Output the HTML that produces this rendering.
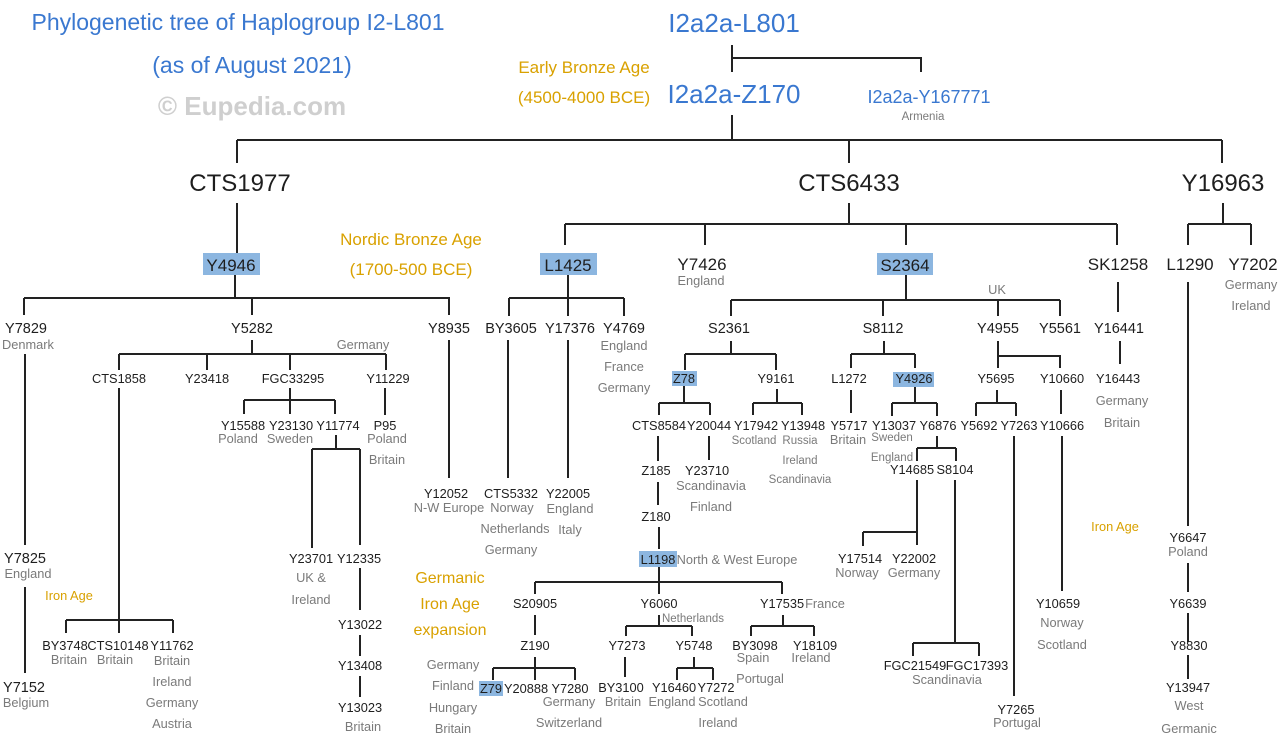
<!DOCTYPE html>
<html><head><meta charset="utf-8"><style>
html,body{margin:0;padding:0;background:#fff;}
svg{display:block;}
text{font-family:"Liberation Sans","DejaVu Sans",sans-serif;text-anchor:middle;}
.b{fill:#3a78d0}
.o{fill:#d9a100}
.k{fill:#1e1e1e}
.g{fill:#7a7a7a}
.t1{font-size:24px}
.t2{font-size:17px}
.t3{font-size:14.5px}
.c{font-size:12.8px}
.cs{font-size:11.5px}
.hl{fill:#8cb6e0}
path{stroke:#222;stroke-width:2;fill:none}
</style></head><body>
<svg width="1280" height="738" viewBox="0 0 1280 738" xmlns="http://www.w3.org/2000/svg">
<text x="238" y="30" class="b" style="font-size:23px">Phylogenetic tree of Haplogroup I2-L801</text>
<text x="252" y="73" class="b" style="font-size:23px">(as of August 2021)</text>
<text x="252" y="115" style="font-size:26px;fill:#cfcfcf;font-weight:bold">© Eupedia.com</text>
<text x="734" y="32" class="b" style="font-size:26px">I2a2a-L801</text>
<text x="584" y="73" class="o" style="font-size:17px">Early Bronze Age</text>
<text x="584" y="103" class="o" style="font-size:17px">(4500-4000 BCE)</text>
<text x="734" y="103" class="b" style="font-size:26px">I2a2a-Z170</text>
<text x="929" y="103" class="b" style="font-size:18px">I2a2a-Y167771</text>
<text x="923" y="120" class="g cs">Armenia</text>
<path d="M732 45V72M732 58H921V72M732 115V140M237 140H1222M237 140V163M849 140V163M1222 140V163"/>
<text x="240" y="191" class="k t1">CTS1977</text>
<text x="849" y="191" class="k t1">CTS6433</text>
<text x="1223" y="191" class="k t1">Y16963</text>
<text x="411" y="245" class="o" style="font-size:17px">Nordic Bronze Age</text>
<text x="411" y="275" class="o" style="font-size:17px">(1700-500 BCE)</text>

<path d="M237 203V253"/>
<rect x="203" y="253" width="57" height="22" class="hl"/>
<text x="231" y="271" class="k t2">Y4946</text>
<path d="M235 275V298M24 298H450M24 298V315M252 298V315M449 298V315"/>
<text x="26" y="333" class="k t3">Y7829</text>
<text x="28" y="349" class="g c">Denmark</text>
<text x="252" y="333" class="k t3">Y5282</text>
<text x="449" y="333" class="k t3">Y8935</text>
<path d="M25 354V545M25 587V673"/>
<text x="25" y="563" class="k t3">Y7825</text>
<text x="28" y="578" class="g c">England</text>
<text x="24" y="692" class="k t3">Y7152</text>
<text x="26" y="707" class="g c">Belgium</text>
<text x="69" y="600" class="o c">Iron Age</text>
<path d="M252 340V354M119 354H386M119 354V370M207 354V370M290 354V370M386 354V370"/>
<text x="363" y="349" class="g c">Germany</text>
<text x="119" y="383" class="k c">CTS1858</text>
<text x="207" y="383" class="k c">Y23418</text>
<text x="293" y="383" class="k c">FGC33295</text>
<text x="388" y="383" class="k c">Y11229</text>
<path d="M119 388V620M66 620H173M66 620V633M119 620V633M173 620V633"/>
<text x="65" y="650" class="k c">BY3748</text><text x="69" y="664" class="g c">Britain</text>
<text x="118" y="650" class="k c">CTS10148</text><text x="115" y="664" class="g c">Britain</text>
<text x="172" y="650" class="k c">Y11762</text><text x="172" y="665" class="g c">Britain</text>
<text x="172" y="686" class="g c">Ireland</text><text x="172" y="707" class="g c">Germany</text><text x="172" y="728" class="g c">Austria</text>
<path d="M290 388V400M244 400H335M244 400V414M290 400V414M335 400V414"/>
<text x="243" y="430" class="k c">Y15588</text><text x="238" y="443" class="g c">Poland</text>
<text x="291" y="430" class="k c">Y23130</text><text x="290" y="443" class="g c">Sweden</text>
<text x="338" y="430" class="k c">Y11774</text>
<path d="M385 388V415"/>
<text x="385" y="430" class="k c">P95</text><text x="387" y="443" class="g c">Poland</text><text x="387" y="464" class="g c">Britain</text>
<path d="M336 435V449M312 449H360M312 449V548M360 449V545"/>
<text x="311" y="563" class="k c">Y23701</text><text x="311" y="582" class="g c">UK &amp;</text><text x="311" y="604" class="g c">Ireland</text>
<text x="359" y="563" class="k c">Y12335</text>
<path d="M360 568V610M360 635V656M360 676V697"/>
<text x="360" y="629" class="k c">Y13022</text>
<text x="360" y="670" class="k c">Y13408</text>
<text x="360" y="712" class="k c">Y13023</text><text x="363" y="731" class="g c">Britain</text>
<path d="M449 340V478"/>
<text x="446" y="498" class="k c">Y12052</text><text x="449" y="512" class="g c">N-W Europe</text>
<text x="450" y="583" class="o" style="font-size:16px">Germanic</text>
<text x="450" y="609" class="o" style="font-size:16px">Iron Age</text>
<text x="450" y="635" class="o" style="font-size:16px">expansion</text>
<text x="453" y="669" class="g c">Germany</text><text x="453" y="690" class="g c">Finland</text><text x="453" y="712" class="g c">Hungary</text><text x="453" y="733" class="g c">Britain</text>

<path d="M849 203V224M565 224H1117M565 224V245M705 224V245M906 224V245M1117 224V245"/>
<rect x="540" y="253" width="57" height="22" class="hl"/>
<text x="568" y="271" class="k t2">L1425</text>
<text x="702" y="270" class="k t2">Y7426</text><text x="701" y="285" class="g c">England</text>
<rect x="877" y="253" width="56" height="22" class="hl"/>
<text x="905" y="271" class="k t2">S2364</text>
<text x="1118" y="270" class="k t2">SK1258</text>
<path d="M568 275V298M509 298H624M509 298V316M568 298V316M624 298V316"/>
<text x="511" y="333" class="k t3">BY3605</text>
<text x="570" y="333" class="k t3">Y17376</text>
<text x="624" y="333" class="k t3">Y4769</text>
<text x="624" y="350" class="g c">England</text><text x="624" y="371" class="g c">France</text><text x="624" y="392" class="g c">Germany</text>
<path d="M508 340V478M568 340V478"/>
<text x="511" y="498" class="k c">CTS5332</text><text x="512" y="512" class="g c">Norway</text><text x="515" y="533" class="g c">Netherlands</text><text x="511" y="554" class="g c">Germany</text>
<text x="568" y="498" class="k c">Y22005</text><text x="570" y="513" class="g c">England</text><text x="570" y="534" class="g c">Italy</text>
<path d="M906 275V300M731 300H1060M731 300V316M883 300V316M998 300V316M1060 300V316"/>
<text x="997" y="294" class="g c">UK</text>
<text x="729" y="333" class="k t3">S2361</text>
<text x="883" y="333" class="k t3">S8112</text>
<text x="998" y="333" class="k t3">Y4955</text>
<text x="1060" y="333" class="k t3">Y5561</text>
<path d="M1118 282V312M1120 341V364"/>
<text x="1119" y="333" class="k t3">Y16441</text>
<text x="1118" y="383" class="k c">Y16443</text><text x="1122" y="405" class="g c">Germany</text><text x="1122" y="427" class="g c">Britain</text>
<path d="M731 341V354M685 354H776M685 354V370M776 354V370"/>
<rect x="672" y="371" width="25" height="15" class="hl"/>
<text x="684" y="383" class="k c">Z78</text>
<text x="776" y="383" class="k c">Y9161</text>
<path d="M684 386V403M659 403H710M659 403V415M710 403V415"/>
<text x="659" y="430" class="k c">CTS8584</text><text x="709" y="430" class="k c">Y20044</text>
<path d="M709 436V460"/>
<text x="707" y="475" class="k c">Y23710</text><text x="711" y="490" class="g c">Scandinavia</text><text x="711" y="511" class="g c">Finland</text>
<path d="M658 436V461M658 482V505M659 527V549"/>
<text x="656" y="475" class="k c">Z185</text>
<text x="656" y="521" class="k c">Z180</text>
<rect x="639" y="551" width="38" height="16" class="hl"/>
<text x="658" y="564" class="k c">L1198</text>
<text x="737" y="564" class="g c">North &amp; West Europe</text>
<path d="M659 567V582M535 582H782M535 582V594M659 582V594M782 582V594"/>
<text x="535" y="608" class="k c">S20905</text><text x="659" y="608" class="k c">Y6060</text><text x="782" y="608" class="k c">Y17535</text>
<text x="825" y="608" class="g c">France</text>
<path d="M535 615V635M535 657V668M493 668H575M493 668V680M535 668V680M575 668V680"/>
<text x="535" y="650" class="k c">Z190</text>
<rect x="479" y="681" width="24" height="15" class="hl"/>
<text x="491" y="693" class="k c">Z79</text><text x="526" y="693" class="k c">Y20888</text><text x="570" y="693" class="k c">Y7280</text>
<text x="569" y="706" class="g c">Germany</text><text x="569" y="727" class="g c">Switzerland</text>
<path d="M659 615V626M626 626H692M626 626V636M692 626V636"/>
<text x="693" y="622" class="g cs">Netherlands</text>
<text x="627" y="650" class="k c">Y7273</text><text x="694" y="650" class="k c">Y5748</text>
<path d="M625 657V677"/>
<text x="621" y="692" class="k c">BY3100</text><text x="623" y="706" class="g c">Britain</text>
<path d="M694 657V668M677 668H713M677 668V680M713 668V680"/>
<text x="674" y="692" class="k c">Y16460</text><text x="716" y="692" class="k c">Y7272</text>
<text x="672" y="706" class="g c">England</text><text x="723" y="706" class="g c">Scotland</text><text x="718" y="727" class="g c">Ireland</text>
<path d="M783 615V626M751 626H814M751 626V636M814 626V636"/>
<text x="755" y="650" class="k c">BY3098</text><text x="753" y="662" class="g c">Spain</text><text x="760" y="683" class="g c">Portugal</text>
<text x="815" y="650" class="k c">Y18109</text><text x="811" y="662" class="g c">Ireland</text>
<path d="M777 389V403M753 403H802M753 403V415M802 403V415"/>
<text x="756" y="430" class="k c">Y17942</text><text x="754" y="444" class="g cs">Scotland</text>
<text x="803" y="430" class="k c">Y13948</text><text x="800" y="444" class="g cs">Russia</text><text x="800" y="464" class="g cs">Ireland</text><text x="800" y="483" class="g cs">Scandinavia</text>
<path d="M884 341V354M851 354H915M851 354V368M915 354V368"/>
<text x="849" y="383" class="k c">L1272</text>
<rect x="893" y="372" width="41" height="15" class="hl"/>
<text x="914" y="383" class="k c">Y4926</text>
<path d="M851 390V413"/>
<text x="849" y="430" class="k c">Y5717</text><text x="848" y="444" class="g c">Britain</text>
<path d="M915 387V403M892 403H937M892 403V416M937 403V416"/>
<text x="894" y="430" class="k c">Y13037</text><text x="892" y="441" class="g cs">Sweden</text>
<text x="938" y="430" class="k c">Y6876</text><text x="892" y="461" class="g cs">England</text>
<path d="M937 436V448M917 448H956M917 448V461M956 448V461"/>
<text x="912" y="474" class="k c">Y14685</text><text x="955" y="474" class="k c">S8104</text>
<path d="M917 480V545M863 532H917M863 532V546"/>
<text x="860" y="563" class="k c">Y17514</text><text x="857" y="577" class="g c">Norway</text>
<text x="914" y="563" class="k c">Y22002</text><text x="914" y="577" class="g c">Germany</text>
<path d="M955 480V643M913 643H979M913 643V656M979 643V656"/>
<text x="915" y="670" class="k c">FGC21549</text><text x="977" y="670" class="k c">FGC17393</text><text x="947" y="684" class="g c">Scandinavia</text>
<path d="M998 341V368M998 356H1060V368"/>
<text x="996" y="383" class="k c">Y5695</text><text x="1062" y="383" class="k c">Y10660</text>
<path d="M997 390V403M976 403H1016M976 403V416M1016 403V416"/>
<text x="979" y="430" class="k c">Y5692</text><text x="1019" y="430" class="k c">Y7263</text>
<path d="M1014 436V696"/>
<text x="1016" y="714" class="k c">Y7265</text><text x="1017" y="727" class="g c">Portugal</text>
<path d="M1061 390V414M1062 436V591"/>
<text x="1062" y="430" class="k c">Y10666</text>
<text x="1058" y="608" class="k c">Y10659</text><text x="1062" y="627" class="g c">Norway</text><text x="1062" y="649" class="g c">Scotland</text>
<text x="1115" y="531" class="o c">Iron Age</text>
<path d="M1223 203V224M1188 224H1251M1188 224V245M1251 224V245"/>
<text x="1190" y="270" class="k t2">L1290</text><text x="1253" y="270" class="k t2">Y7202</text>
<text x="1251" y="289" class="g c">Germany</text><text x="1251" y="310" class="g c">Ireland</text>
<path d="M1188 282V526M1188 563V592M1188 613V642M1188 655V679"/>
<text x="1188" y="542" class="k c">Y6647</text><text x="1188" y="556" class="g c">Poland</text>
<text x="1188" y="608" class="k c">Y6639</text>
<text x="1189" y="650" class="k c">Y8830</text>
<text x="1188" y="692" class="k c">Y13947</text><text x="1189" y="710" class="g c">West</text><text x="1189" y="733" class="g c">Germanic</text>
</svg>
</body></html>
